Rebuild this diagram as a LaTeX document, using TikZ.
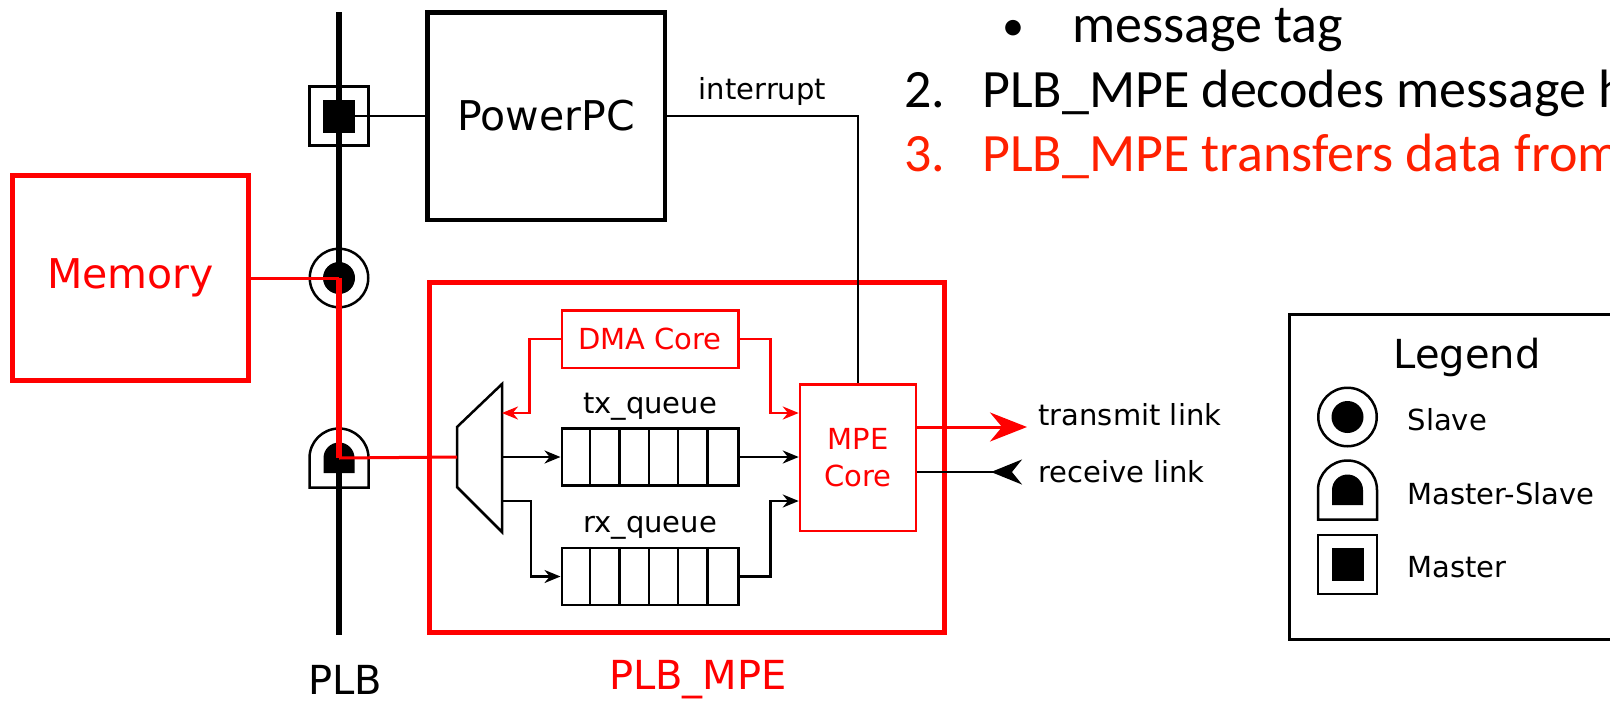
\documentclass[tikz,border=0pt]{standalone}
\usepackage{fontspec}
\setmainfont{DejaVu Sans}
\newfontfamily\slidefont{Carlito}
\usetikzlibrary{arrows.meta,positioning}
\definecolor{plbred}{RGB}{255,0,0}
\definecolor{slidered}{RGB}{255,32,0}

\begin{document}
\begin{tikzpicture}[x=1pt,y=-1pt,node distance=10pt]
    \tikzset{
      bignode/.style={rectangle,draw=black,line width=4.5pt,inner sep=0pt,font=\fontsize{41}{48}\selectfont},
      rednode/.style={rectangle,draw=plbred,text=plbred,line width=5pt,inner sep=0pt,font=\fontsize{41}{48}\selectfont},
      corenode/.style={rectangle,draw=plbred,text=plbred,line width=2.5pt,inner sep=0pt,align=center,font=\fontsize{29}{37}\selectfont},
      queuenode/.style={rectangle,draw=black,line width=2.5pt,inner sep=0pt,minimum width=176.5pt,minimum height=57pt},
      lbl/.style={inner sep=0pt,font=\fontsize{29}{35}\selectfont},
      biglbl/.style={inner sep=0pt,font=\fontsize{40}{48}\selectfont},
      slidetext/.style={inner sep=0pt,anchor=base west,font=\slidefont\fontsize{54}{64}\selectfont},
      wire/.style={line width=2pt},
      arrow/.style={-{Stealth[length=16pt,width=13pt]},line width=2.5pt},
      redarrow/.style={arrow,draw=plbred},
      symline/.style={line width=2.5pt},
      slavesym/.pic={
        \draw[symline] (0,0) circle[radius=29.25pt];
        \fill (0,0) circle[radius=16pt];},
      mastersym/.pic={
        \draw[symline] (-29.5,-29.5) rectangle (29.5,29.5);
        \fill (-16,-16.5) rectangle (16,16.5);},
      mastslavesym/.pic={
        \draw[symline] (-29.5,29.5) -- (-29.5,0) arc[start angle=180,end angle=0,radius=29.5pt] -- (29.5,29.5) -- cycle;
        \fill (-15.5,15) -- (-15.5,0) arc[start angle=180,end angle=0,radius=15.5pt] -- (15.5,15) -- cycle;}
    }
    \useasboundingbox[fill=white] (0,0) rectangle (1610,702);
    \clip (0,0) rectangle (1610,702);

    % blocks
    \node[bignode,minimum width=237.5pt,minimum height=207.5pt](ppc) at (546,116){PowerPC};
    \node[rednode,minimum width=236pt,minimum height=205pt](mem) at (130.5,278){Memory};
    \node[rednode,minimum width=515pt,minimum height=350pt](plbmpe) at (687,457.5){};
    \node[corenode,minimum width=176.5pt,minimum height=57.5pt](dma) at (650,339){DMA Core};
    \node[corenode,minimum width=116pt,minimum height=146.5pt](core) at (858,457.5){MPE\\Core};
    \node[queuenode](txq) at (650,457){};
    \node[queuenode](rxq) at (650,576.5){};
    \node[lbl,above=7pt of txq](txlbl){tx\_queue};
    \node[lbl,above=7pt of rxq](rxlbl){rx\_queue};
    \foreach \q in {txq,rxq}
      \foreach \i in {1,...,5}
        \draw[line width=2.5pt]([xshift=\i*29.42pt]\q.north west) -- ([xshift=\i*29.42pt]\q.south west);

    % mux
    \coordinate (muxin) at (457,457);
    \coordinate (muxtx) at (502,457);
    \coordinate (muxrx) at (502,501);
    \coordinate (muxdma) at (502,413);
    \draw[line width=2.5pt] (457,427) -- (502,384) -- (502,532) -- (457,487) -- cycle;

    % PLB bus
    \coordinate (bustop) at (339,12);
    \coordinate (busbot) at (339,635);
    \coordinate (mst) at (339,116);
    \coordinate (slv) at (339,278);
    \coordinate (mss) at (339,458);
    \draw[line width=6pt](bustop) -- (busbot);
    \draw[wire](mst) -- (ppc.west);
    \pic at (mst) {mastersym};
    \pic at (slv) {slavesym};
    \pic at (mss) {mastslavesym};
    \draw[plbred,line width=3pt](mem.east) -- (slv);
    \draw[plbred,line width=6pt](slv) -- (mss);
    \draw[plbred,line width=3pt](mss) -- (muxin);

    \draw[wire](ppc.east) -| node[lbl,pos=0.25,above=9pt]{interrupt} (core.north);

    \draw[arrow](muxtx) -- (txq.west);
    \draw[arrow](muxrx) -- ++(29,0) |- (rxq.west);
    \draw[arrow](txq.east) -- (txq.east -| core.west);
    \draw[arrow](rxq.east) -- ++(31,0) |- (core.west |- muxrx);
    \draw[redarrow](dma.west) -- ++(-31,0) |- (muxdma);
    \draw[redarrow](dma.east) -- ++(31,0) |- (core.west |- muxdma);

    % links
    \coordinate (txlink) at (1027,427);
    \coordinate (rxlink) at (1022,472);
    \draw[plbred,line width=3pt,-{Stealth[length=37pt,width=29pt]}](core.east |- txlink) -- (txlink)
      node[lbl,anchor=south west,xshift=10pt,text=black]{transmit link};
    \draw[line width=2.5pt,-{Stealth[length=31pt,width=25pt,reversed]}](core.east |- rxlink) -- (rxlink)
      node[lbl,right=15pt]{receive link};

    \node[biglbl](plblbl) at (345,680){PLB};
    \node[biglbl,text=plbred](plbmpelbl) at (698,680){PLB\_MPE};

    % legend
    \node[draw,line width=2.5pt,anchor=north west,minimum width=400pt,minimum height=325pt,inner sep=0pt](legend) at (1288,313){};
    \node[biglbl](legtitle) at (1467,357){Legend};
    \coordinate (legslv) at (1347.5,417);
    \coordinate (legmss) at (1347.5,490);
    \coordinate (legmst) at (1347.5,564.5);
    \pic at (legslv) {slavesym};
    \pic at (legmss) {mastslavesym};
    \pic at (legmst) {mastersym};
    \node[lbl,right=60pt of legslv,yshift=-3pt](slvlbl){Slave};
    \node[lbl,right=60pt of legmss,yshift=-4pt](msslbl){Master-Slave};
    \node[lbl,right=60pt of legmst,yshift=-3pt](mstlbl){Master};

    % slide text
    \node[slidetext,font=\slidefont\fontsize{44}{50}\selectfont](bullet) at (1002,40){•};
    \node[slidetext](item1) at (1072,42){message tag};
    \node[slidetext](num2) at (904,107){2.};
    \node[slidetext](item2) at (982,107){PLB\_MPE decodes message h};
    \node[slidetext,text=slidered](num3) at (904,171){3.};
    \node[slidetext,text=slidered](item3) at (982,171){PLB\_MPE transfers data from};
\end{tikzpicture}
\end{document}
